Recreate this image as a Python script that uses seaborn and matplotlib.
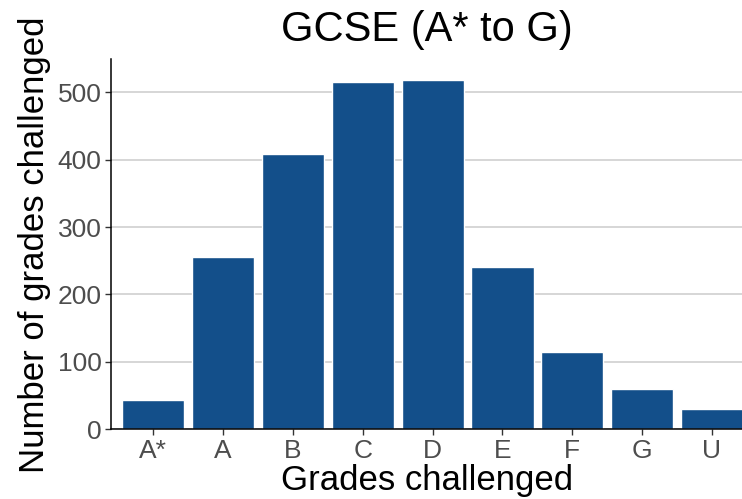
import pandas as pd
import seaborn as sns
import matplotlib.pyplot as plt

# Данные графика
grades = ['A*', 'A', 'B', 'C', 'D', 'E', 'F', 'G', 'U']
counts = [44, 255, 409, 515, 518, 241, 115, 60, 30]

df = pd.DataFrame({'grade': grades, 'count': counts})

sns.set_theme(style='white')
plt.rcParams['font.family'] = ['Liberation Sans', 'DejaVu Sans']
plt.rcParams['text.color'] = 'black'
plt.rcParams['axes.labelcolor'] = 'black'

fig = plt.figure(figsize=(7.42, 4.99), dpi=100)
ax = fig.add_axes([0.150, 0.140, 0.850, 0.741])

sns.barplot(data=df, x='grade', y='count', color='#134F8A', saturation=1,
            width=0.89, ax=ax, zorder=2)

ax.set_xlim(-0.6, 8.43)
ax.set_ylim(0, 549)
ax.set_yticks([0, 100, 200, 300, 400, 500])
ax.yaxis.grid(True, color='#CCCCCC', linewidth=1.1, zorder=0)
ax.set_axisbelow(True)

for side in ['top', 'right']:
    ax.spines[side].set_visible(False)
for side in ['left', 'bottom']:
    ax.spines[side].set_color('black')
    ax.spines[side].set_linewidth(1.1)

ax.tick_params(axis='both', labelsize=19, labelcolor='#4D4D4D', color='#333333',
               length=4, width=1, pad=3, bottom=True, left=True)

ax.set_title('GCSE (A* to G)', fontsize=30, pad=13, color='black')
ax.set_xlabel('Grades challenged', fontsize=25, labelpad=1, color='black')
ax.set_ylabel('Number of grades challenged', fontsize=25, labelpad=5, color='black')

plt.savefig('out.png', dpi=100)
